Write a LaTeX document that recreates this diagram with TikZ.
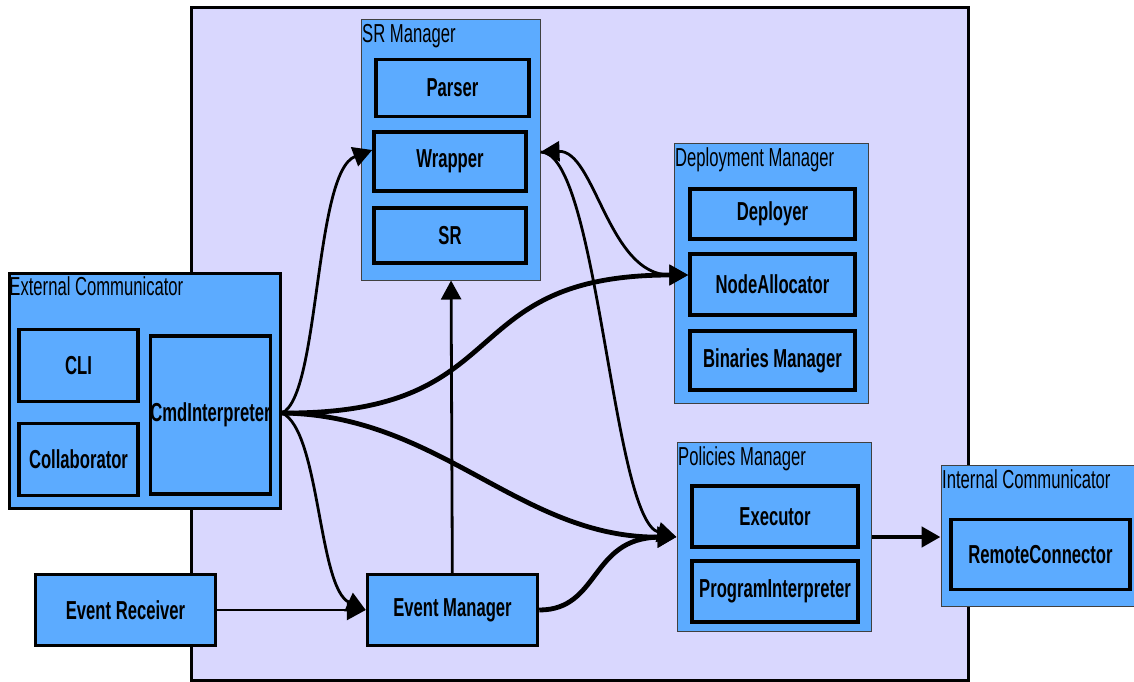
\documentclass[tikz,border=0pt]{standalone}
\usepackage{fontspec}
\setmainfont{Liberation Sans}[FakeStretch=0.64]
\usetikzlibrary{arrows.meta}
\definecolor{boxblue}{HTML}{5CABFF}
\definecolor{lavender}{HTML}{D9D7FE}
\tikzset{
  comp/.style={draw=black, line width=3.5pt, fill=boxblue, inner sep=0pt, font=\bfseries\fontsize{26}{28}\selectfont},
  group/.style={draw=black!75, line width=1pt, fill=boxblue, inner sep=0pt},
  grouptitle/.style={anchor=north west, inner sep=0pt, xshift=1.5pt, yshift=-5pt, font=\fontsize{26}{28}\selectfont},
  link/.style={line width=2.8pt, -{Triangle[length=19pt,width=20pt]}},
  fatlink/.style={link, line width=4.8pt}
}
\begin{document}
\begin{tikzpicture}[x=1pt,y=-1pt]
\useasboundingbox (0,0) rectangle (1134,682);
\clip (0,0) rectangle (1134,682);
\draw[fill=lavender, line width=3pt] (191,8) rectangle (968,680);

\node[group, minimum width=179, minimum height=260] (srm) at (450.5,150) {};
\node[grouptitle] (srmtitle) at (srm.north west) {SR Manager};
\node[comp, minimum width=153, minimum height=57] (parser) at (452.5,88) {Parser};
\node[comp, minimum width=152, minimum height=59] (wrapper) at (450,161.5) {Wrapper};
\node[comp, minimum width=152, minimum height=55] (sr) at (450,235.5) {SR};

\node[group, minimum width=194, minimum height=260] (dm) at (771,273) {};
\node[grouptitle] (dmtitle) at (dm.north west) {Deployment Manager};
\node[comp, minimum width=165, minimum height=50] (deployer) at (772.5,214) {Deployer};
\node[comp, minimum width=165, minimum height=61] (nodealloc) at (772.5,284.5) {NodeAllocator};
\node[comp, minimum width=165, minimum height=59] (binmgr) at (772.5,360.5) {Binaries Manager};

\node[group, minimum width=194, minimum height=189] (pm) at (774,536.5) {};
\node[grouptitle] (pmtitle) at (pm.north west) {Policies Manager};
\node[comp, minimum width=166, minimum height=61] (executor) at (775,516.5) {Executor};
\node[comp, minimum width=166, minimum height=61] (proginterp) at (775,591.5) {ProgramInterpreter};

\node[group, minimum width=200, minimum height=141] (ic) at (1041,535.5) {};
\node[grouptitle] (ictitle) at (ic.north west) {Internal Communicator};
\node[comp, minimum width=179, minimum height=70] (remote) at (1040.5,554.5) {RemoteConnector};

\node[group, draw=black, line width=3.5pt, minimum width=271, minimum height=235] (ec) at (145,391) {};
\node[grouptitle] (ectitle) at (ec.north west) {External Communicator};
\node[comp, minimum width=119, minimum height=72] (cli) at (78.5,365.5) {CLI};
\node[comp, minimum width=119, minimum height=72] (collab) at (78.5,459.5) {Collaborator};
\node[comp, minimum width=119, minimum height=158] (cmd) at (210.5,415) {CmdInterpreter};

\node[comp, minimum width=180, minimum height=71] (evrecv) at (125.5,610) {Event Receiver};
\node[comp, minimum width=170, minimum height=71] (evmgr) at (452.5,610) {Event Manager};

\coordinate (fan) at (282,413);
\draw[link] (fan) .. controls (320,396) and (314,172) .. (wrapper.west |- 0,150);
\draw[link] (fan) .. controls (320,430) and (318,588) .. (evmgr.west);
\draw[fatlink] (fan) .. controls (520,415) and (450,275) .. (nodealloc.west |- 0,275);
\draw[fatlink] (fan) .. controls (440,415) and (520,538) .. (pm.west |- 0,537);
\draw[link] (evrecv) -- (evmgr);
\draw[link] (evmgr) -- (srm);
\draw[fatlink] (evmgr.east) .. controls (600,610) and (590,538) .. (pm.west |- 0,537);
\draw[link, {Triangle[length=19pt,width=20pt]}-{Triangle[length=19pt,width=20pt]}] (srm.east |- 0,152) .. controls (595,150) and (608,275) .. (nodealloc.west |- 0,275);
\draw[link] (srm.east |- 0,152) .. controls (598,150) and (612,520) .. (pm.west |- 0,537);
\draw[fatlink] (pm.east |- 0,537) -- (ic.west |- 0,537);
\end{tikzpicture}
\end{document}
